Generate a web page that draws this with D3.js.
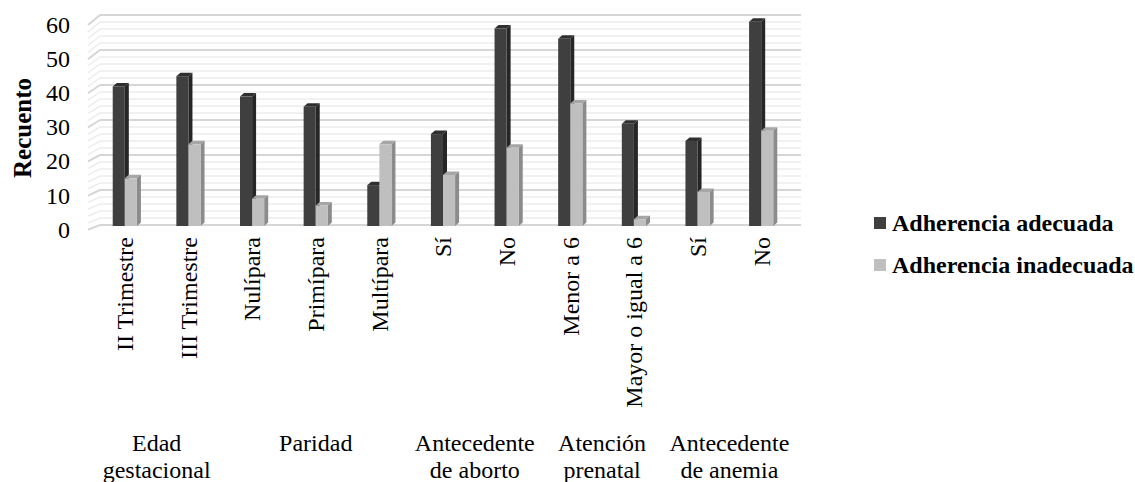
<!DOCTYPE html>
<html>
<head>
<meta charset="utf-8">
<script src="https://cdn.jsdelivr.net/npm/d3@7"></script>
<style>
  html, body { margin: 0; background: #fff; font-family: "Liberation Serif"; }
  svg { display: block; font-family: "Liberation Serif"; }
</style>
</head>
<body>
<svg id="chart" width="1135" height="482"></svg>
<script>
// Counts of adherence by maternal characteristic
const categories = ["II Trimestre", "III Trimestre", "Nulípara", "Primípara", "Multípara",
                    "Sí", "No", "Menor a 6", "Mayor o igual a 6", "Sí", "No"];
const adecuada   = [41, 44, 38, 35, 12, 27, 58, 55, 30, 25, 60];
const inadecuada = [14, 24, 8, 6, 24, 15, 23, 36, 2, 10, 28];
const seriesNames = ["Adherencia adecuada", "Adherencia inadecuada"];
const groupLabels = [["Edad", "gestacional"], ["Paridad"], ["Antecedente", "de aborto"],
                     ["Atención", "prenatal"], ["Antecedente", "de anemia"]];
const groupSizes = [2, 3, 2, 2, 2];
const yTicks = [0, 10, 20, 30, 40, 50, 60];
const axisTitle = "Recuento";

const svg = d3.select("#chart").style("font-family", "Liberation Serif");
const serifText = sel => sel.style("font-family", d => "Liberation Serif");

// Front plane (bars) and back wall (gridlines) of the 3-D column chart
const x = d3.scaleBand().domain(d3.range(categories.length)).range([93, 793]);
const yFront = d3.scaleLinear().domain([0, 60]).range([226, 21.7]);
const yBack = d3.scaleLinear().domain([0, 60]).range([225, 15]);
// perspective drop of the side wall, larger near the top
const sideDrop = d3.scaleLinear().domain([15, 225]).range([10, 4.7]);
const wallLeft = 100, wallRight = 801, sideFrontX = 88;

const series = [
  { values: adecuada,   front: "#3f3f3f", side: "#262626", top: "#2f2f2f" },
  { values: inadecuada, front: "#bfbfbf", side: "#8b8b8b", top: "#a6a6a6" }
];

// Gridlines: minor every 2, major every 10
const minor = d3.range(0, 61, 2).filter(v => v % 10 !== 0);
const grid = svg.append("g");
function gridLine(v, color, width) {
  const yb = yBack(v);
  grid.append("line").attr("x1", wallLeft).attr("x2", wallRight)
    .attr("y1", yb).attr("y2", yb).attr("stroke", color).attr("stroke-width", width);
  grid.append("line").attr("x1", wallLeft).attr("y1", yb)
    .attr("x2", sideFrontX).attr("y2", yb + sideDrop(yb))
    .attr("stroke", color).attr("stroke-width", width);
}
minor.forEach(v => gridLine(v, "#ededed", 1.5));
yTicks.forEach(v => gridLine(v, "#d6d6d6", 2));

// Y tick labels at the front edge of the side wall
svg.selectAll("text.tick").data(yTicks).join("text")
  .attr("class", "tick")
  .attr("x", 70)
  .attr("y", d => yBack(d) + sideDrop(yBack(d)))
  .attr("dy", "0.33em")
  .attr("text-anchor", "end")
  .attr("font-size", 24)
  .call(serifText)
  .text(d => d);

svg.selectAll("text.title").data([axisTitle]).join("text")
  .attr("class", "title")
  .attr("transform", "translate(31,128) rotate(-90)")
  .attr("text-anchor", "middle")
  .attr("font-size", 25)
  .attr("font-weight", "bold")
  .call(serifText)
  .text(d => d);

// 3-D bars
const barW = x.bandwidth() * 0.19;
const depthX = 4, depthY = 3.5;
const bars = svg.append("g");
categories.forEach((c, i) => {
  const cx = x(i) + x.bandwidth() / 2;
  series.forEach((s, k) => {
    const x0 = cx - barW + k * barW, x1 = x0 + barW;
    const yt = yFront(s.values[i]), yb = yFront(0);
    bars.append("path")
      .attr("d", `M${x0},${yt}L${x0 + depthX},${yt - depthY}L${x1 + depthX},${yt - depthY}L${x1},${yt}Z`)
      .attr("fill", s.top);
    bars.append("path")
      .attr("d", `M${x1},${yt}L${x1 + depthX},${yt - depthY}L${x1 + depthX},${yb - depthY}L${x1},${yb}Z`)
      .attr("fill", s.side);
    bars.append("rect")
      .attr("x", x0).attr("y", yt).attr("width", barW).attr("height", yb - yt)
      .attr("fill", s.front);
  });
});

// Category labels, rotated
svg.selectAll("text.cat").data(categories).join("text")
  .attr("class", "cat")
  .attr("transform", (d, i) => `translate(${x(i) + x.bandwidth() / 2},237) rotate(-90)`)
  .attr("dy", "0.35em")
  .attr("text-anchor", "end")
  .attr("font-size", 24)
  .call(serifText)
  .text(d => d);

// Group labels under the categories
const groupStarts = groupSizes.map((n, g) => d3.sum(groupSizes.slice(0, g)));
const groupText = svg.selectAll("text.group").data(groupLabels).join("text")
  .attr("class", "group")
  .attr("text-anchor", "middle")
  .attr("font-size", 24)
  .call(serifText);
groupText.each(function (lines, g) {
  const first = groupStarts[g], last = first + groupSizes[g] - 1;
  const gx = (x(first) + x(last) + x.bandwidth()) / 2;
  d3.select(this).selectAll("tspan").data(lines).join("tspan")
    .attr("x", gx).attr("y", (d, j) => 451 + j * 27).text(d => d);
});

// Legend
svg.selectAll("rect.key").data(seriesNames).join("rect")
  .attr("class", "key")
  .attr("x", 874).attr("y", (d, k) => 217 + k * 42).attr("width", 12).attr("height", 12)
  .attr("fill", (d, k) => series[k].front);
svg.selectAll("text.key").data(seriesNames).join("text")
  .attr("class", "key")
  .attr("x", 892).attr("y", (d, k) => 223 + k * 42).attr("dy", "0.33em")
  .attr("font-size", 24).attr("font-weight", "bold")
  .call(serifText)
  .text(d => d);
</script>
</body>
</html>
